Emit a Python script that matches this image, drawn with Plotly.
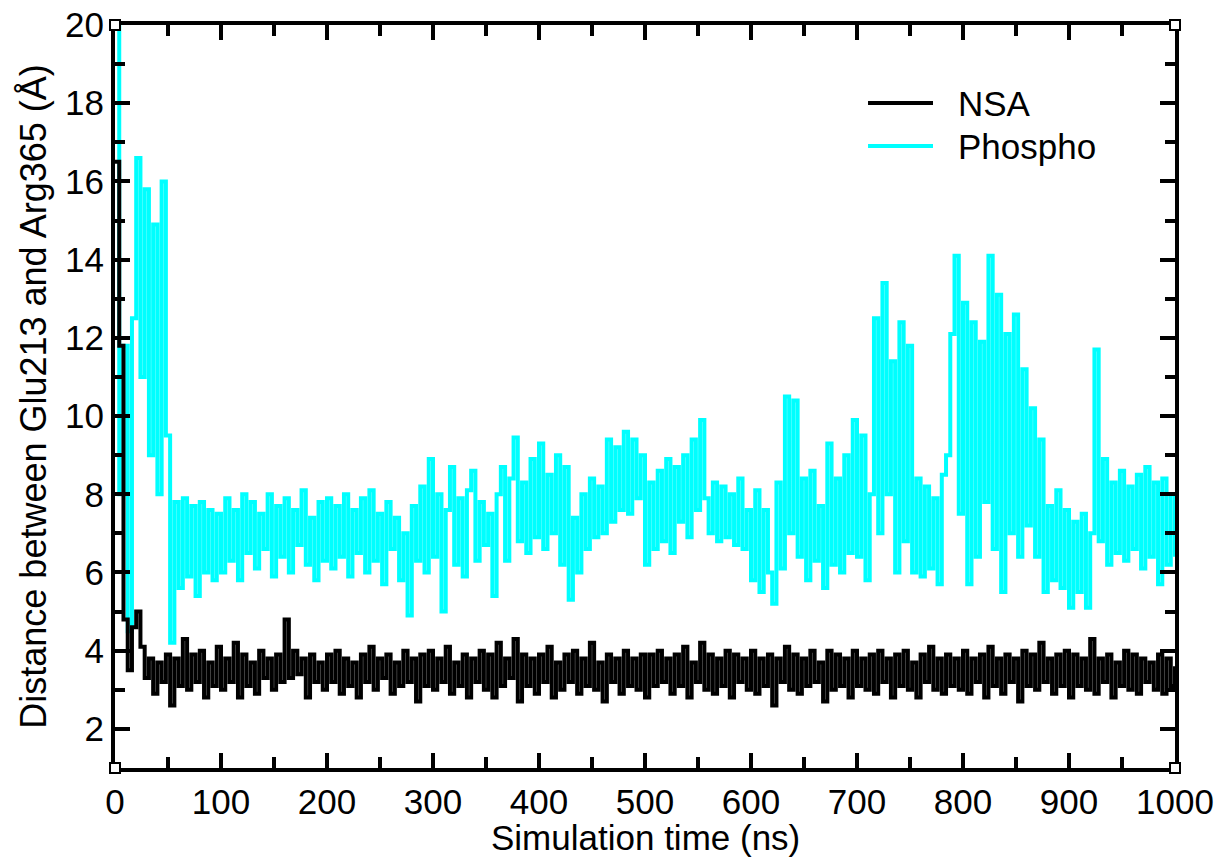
import plotly.graph_objects as go

time_ns = list(range(0, 1001, 4))

phospho = [
    20.0, 8.0, 11.8, 4.5, 12.5, 16.6, 11.0, 15.8, 9.0, 14.9, 8.0, 16.0, 9.5, 4.2, 7.8, 5.6, 7.9, 5.9, 7.7, 5.4, 7.8, 6.0, 7.6, 5.8, 7.5,
    6.0, 7.9, 6.3, 7.6, 5.8, 8.0, 6.5, 7.8, 6.1, 7.5, 6.6, 8.0, 5.9, 7.7, 6.4, 7.9, 6.0, 7.6, 6.7, 8.1, 6.2, 7.4, 5.8, 7.8, 6.3,
    7.9, 6.1, 7.7, 6.4, 8.0, 5.9, 7.6, 6.5, 7.9, 6.0, 8.1, 6.3, 7.5, 5.7, 7.8, 6.6, 7.4, 5.8, 7.0, 4.9, 7.7, 6.3, 8.2, 6.0, 8.9,
    6.4, 8.0, 5.0, 7.6, 8.7, 6.2, 7.9, 5.9, 8.1, 8.6, 6.3, 7.8, 6.7, 7.5, 5.4, 8.0, 8.7, 6.3, 8.4, 9.45, 6.8, 8.3, 6.5, 8.9, 6.9,
    9.3, 6.6, 8.5, 7.0, 9.0, 6.2, 8.7, 5.3, 7.4, 6.0, 8.0, 6.6, 8.4, 6.9, 8.2, 7.0, 9.4, 7.3, 9.2, 7.6, 9.6, 7.5, 9.4, 7.9, 9.0,
    6.2, 8.3, 6.6, 8.6, 6.8, 8.9, 6.5, 8.7, 7.3, 9.0, 6.9, 9.4, 7.6, 9.9, 7.9, 7.0, 8.3, 6.8, 8.2, 6.9, 8.0, 6.7, 8.4, 6.6, 7.6,
    5.8, 8.1, 5.5, 7.6, 6.0, 5.2, 8.3, 6.1, 10.5, 7.0, 10.4, 6.4, 8.4, 5.8, 8.6, 6.3, 7.7, 5.6, 9.3, 6.2, 8.4, 6.0, 9.0, 6.5, 9.9,
    6.4, 9.5, 5.8, 8.0, 12.5, 7.0, 13.4, 8.0, 11.4, 6.0, 12.4, 6.8, 11.8, 6.0, 8.4, 5.9, 8.2, 6.1, 7.9, 5.7, 8.5, 9.0, 12.1, 14.1, 7.5,
    12.9, 5.7, 12.4, 6.4, 11.9, 7.8, 14.1, 6.6, 13.1, 5.5, 12.1, 7.0, 12.6, 6.4, 11.2, 7.2, 10.2, 6.4, 9.4, 5.5, 7.7, 5.8, 8.1, 5.6, 7.6,
    5.1, 7.3, 5.5, 7.5, 5.1, 7.0, 11.7, 6.8, 8.9, 6.2, 8.3, 6.5, 8.6, 6.3, 8.2, 6.6, 8.5, 6.1, 8.7, 6.4, 8.3, 5.7, 8.4, 6.2, 8.0, 6.4,
]

nsa = [
    16.5, 11.8, 4.8, 3.5, 4.6, 5.0, 4.1, 3.3, 3.8, 2.9, 3.7, 3.2, 3.9, 2.6, 3.8, 3.1, 4.3, 3.0, 3.9, 3.2, 4.0, 2.8, 3.7, 3.1, 4.1,
    3.0, 3.8, 3.2, 4.2, 2.8, 3.9, 3.1, 3.7, 2.9, 4.0, 3.3, 3.8, 3.0, 3.9, 3.2, 4.8, 3.3, 4.0, 3.4, 3.8, 2.8, 3.9, 3.2, 3.7, 3.0,
    3.9, 3.2, 4.0, 2.9, 3.8, 3.1, 3.7, 2.8, 3.9, 3.2, 4.1, 3.0, 3.8, 3.3, 3.9, 2.9, 3.7, 3.1, 4.0, 3.2, 3.8, 2.7, 3.9, 3.1, 4.0,
    3.0, 3.8, 3.2, 4.1, 2.9, 3.7, 3.1, 3.9, 2.8, 3.8, 3.2, 4.0, 3.0, 3.9, 2.8, 4.2, 3.1, 3.8, 3.3, 4.3, 2.7, 3.9, 3.1, 3.8, 2.9,
    3.9, 3.2, 4.1, 2.8, 3.7, 3.0, 3.9, 3.2, 4.0, 2.9, 3.8, 3.1, 4.2, 3.0, 3.7, 2.7, 3.9, 3.2, 3.8, 2.9, 4.0, 3.1, 3.8, 3.0, 3.9,
    2.8, 3.9, 3.1, 4.0, 3.2, 3.8, 2.9, 3.9, 3.1, 4.1, 2.8, 3.7, 3.2, 4.2, 3.0, 3.9, 2.9, 3.8, 3.1, 4.0, 2.8, 3.9, 3.2, 3.8, 3.0,
    4.0, 2.9, 3.8, 3.1, 3.9, 2.6, 3.8, 3.2, 4.1, 3.0, 3.9, 2.9, 3.8, 3.1, 4.0, 3.2, 3.7, 2.7, 4.0, 3.0, 3.9, 3.1, 3.8, 2.8, 4.0,
    3.1, 3.8, 3.0, 3.9, 2.9, 4.0, 3.2, 3.8, 2.8, 3.9, 3.1, 4.0, 3.0, 3.7, 2.8, 3.9, 3.2, 4.1, 3.0, 3.8, 2.9, 3.9, 3.1, 3.8, 3.0,
    4.0, 2.9, 3.8, 3.2, 3.9, 2.8, 4.1, 3.1, 3.8, 2.9, 3.9, 3.2, 3.8, 2.7, 4.0, 3.1, 3.9, 3.0, 4.2, 3.2, 3.8, 2.9, 3.9, 3.1, 4.0,
    2.8, 3.9, 3.1, 3.8, 3.0, 4.3, 2.9, 3.8, 3.2, 3.9, 2.8, 3.7, 3.1, 4.0, 3.0, 3.9, 2.9, 3.8, 3.2, 3.7, 3.0, 3.9, 2.9, 3.8, 3.1, 3.6,
]

series_names = ["NSA", "Phospho"]
series_colors = ["#000000", "#00FFFF"]

x_title = "Simulation time (ns)"
y_title = "Distance between Glu213 and Arg365 (Å)"

FONT = "Liberation Sans, Arial, Helvetica, sans-serif"

fig = go.Figure()
fig.add_trace(go.Scatter(x=time_ns, y=phospho, mode="lines", name=series_names[1],
                         line=dict(color=series_colors[1], width=4, shape="hv"),
                         showlegend=False, hoverinfo="skip"))
fig.add_trace(go.Scatter(x=time_ns, y=nsa, mode="lines", name=series_names[0],
                         line=dict(color=series_colors[0], width=4, shape="hv"),
                         showlegend=False, hoverinfo="skip"))

axis_common = dict(
    showgrid=False, zeroline=False, showline=True, linecolor="black", linewidth=4,
    mirror="ticks", ticks="inside", ticklen=15, tickwidth=4, tickcolor="black",
    tickfont=dict(family=FONT, size=35, color="black"),
    ticklabeloverflow="allow",
)

fig.update_xaxes(range=[0, 1000], dtick=100, tick0=0,
                 minor=dict(ticks="inside", dtick=50, ticklen=11, tickwidth=4, tickcolor="black"),
                 **axis_common)
fig.update_yaxes(range=[1, 20], dtick=2, tick0=0,
                 minor=dict(ticks="inside", dtick=1, ticklen=10, tickwidth=4, tickcolor="black"),
                 title=dict(text=y_title, font=dict(family=FONT, size=36, color="black"), standoff=8),
                 **axis_common)

# x-axis title as a centred text below the tick labels
fig.add_annotation(xref="paper", yref="paper", x=0.5, y=-0.0942, text=x_title, showarrow=False,
                   xanchor="center", yanchor="middle",
                   font=dict(family=FONT, size=35, color="black"))

# legend drawn manually (line samples + text)
leg_x0, leg_x1, leg_tx = 0.7104, 0.7717, 0.7934
leg_y = [0.895, 0.837]
for name, color, yy in zip(series_names, series_colors, leg_y):
    fig.add_shape(type="line", xref="paper", yref="paper", x0=leg_x0, x1=leg_x1, y0=yy, y1=yy,
                  line=dict(color=color, width=4))
    fig.add_annotation(xref="paper", yref="paper", x=leg_tx, y=yy, text=name, showarrow=False,
                       xanchor="left", yanchor="middle",
                       font=dict(family=FONT, size=35, color="black"))

# small corner squares
for cx in (0, 1):
    for cy in (0, 1):
        fig.add_shape(type="rect", xref="paper", yref="paper",
                      xsizemode="pixel", ysizemode="pixel", xanchor=cx, yanchor=cy,
                      x0=-5, x1=5, y0=-5, y1=5,
                      line=dict(color="black", width=2), fillcolor="white")

fig.update_layout(
    width=1225, height=859,
    margin=dict(l=115, r=50, t=25, b=91, autoexpand=False),
    paper_bgcolor="white", plot_bgcolor="white",
    showlegend=False,
)

# remove the default page margin so the figure sits at the window's top-left corner
fig.write_html("out.html", config={"displayModeBar": False},
               post_script="document.body.style.margin='0';")
